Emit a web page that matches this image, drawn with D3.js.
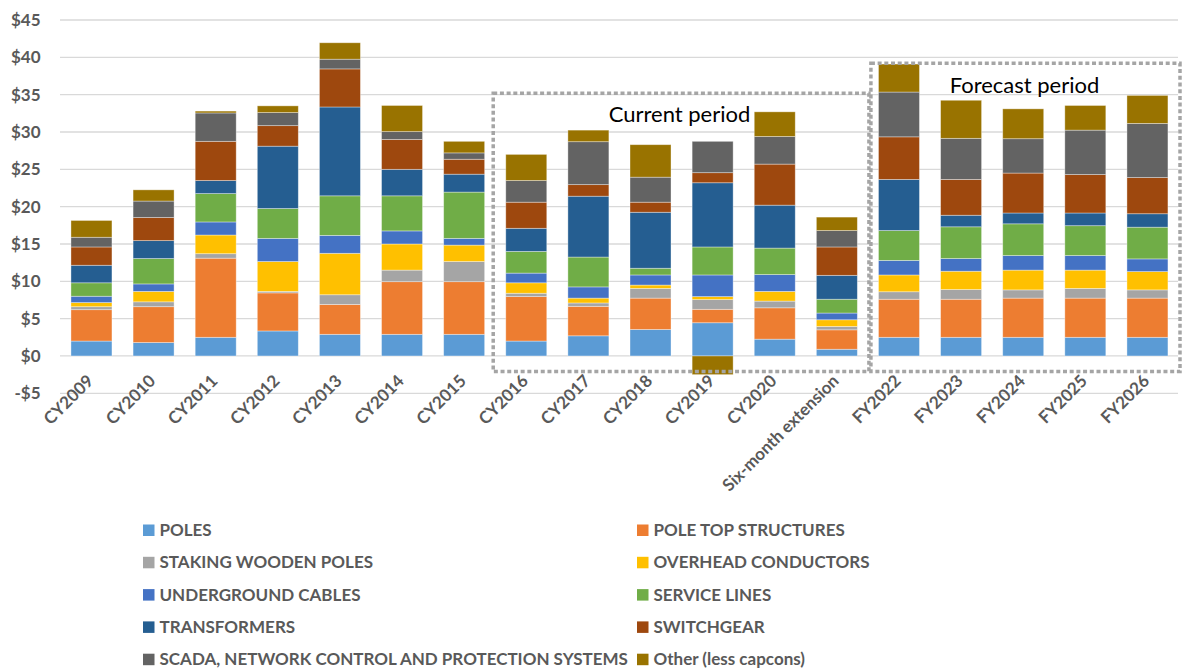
<!DOCTYPE html>
<html>
<head>
<meta charset="utf-8">
<script src="https://cdn.jsdelivr.net/npm/d3@7"></script>
<style>
  body { margin: 0; background: #fff; }
  svg text { font-family: Lato, "Open Sans", "DejaVu Sans", sans-serif; }
</style>
</head>
<body>
<svg id="chart" width="1182" height="671"></svg>
<script>
// Capital expenditure by asset category ($ million)
const categories = ["CY2009", "CY2010", "CY2011", "CY2012", "CY2013", "CY2014", "CY2015",
  "CY2016", "CY2017", "CY2018", "CY2019", "CY2020", "Six-month extension",
  "FY2022", "FY2023", "FY2024", "FY2025", "FY2026"];

const poles        = [2.0, 1.8, 2.5, 3.35, 2.9, 2.9, 2.9, 2.0, 2.7, 3.55, 4.45, 2.25, 0.9, 2.5, 2.5, 2.5, 2.5, 2.5];
const poleTop      = [4.2, 4.8, 10.6, 5.1, 4.0, 7.05, 7.05, 5.95, 3.95, 4.2, 1.8, 4.2, 2.6, 5.1, 5.1, 5.25, 5.25, 5.25];
const staking      = [0.4, 0.65, 0.6, 0.2, 1.3, 1.55, 2.7, 0.45, 0.45, 1.3, 1.3, 0.9, 0.45, 1.0, 1.3, 1.1, 1.3, 1.1];
const overhead     = [0.55, 1.4, 2.5, 4.0, 5.55, 3.5, 2.2, 1.4, 0.65, 0.45, 0.4, 1.3, 0.9, 2.25, 2.45, 2.65, 2.45, 2.45];
const underground  = [0.85, 1.0, 1.75, 3.1, 2.4, 1.75, 0.9, 1.3, 1.5, 1.35, 2.9, 2.25, 0.9, 1.95, 1.7, 1.95, 1.95, 1.7];
const serviceLines = [1.8, 3.4, 3.8, 4.0, 5.3, 4.7, 6.2, 2.9, 4.0, 0.9, 3.75, 3.55, 1.85, 4.0, 4.25, 4.25, 4.0, 4.25];
const transformers = [2.35, 2.4, 1.75, 8.35, 11.9, 3.55, 2.4, 3.1, 8.15, 7.5, 8.6, 5.75, 3.2, 6.85, 1.55, 1.45, 1.7, 1.8];
const switchgear   = [2.45, 3.1, 5.25, 2.75, 5.1, 4.0, 2.0, 3.5, 1.55, 1.35, 1.35, 5.5, 3.8, 5.7, 4.8, 5.35, 5.15, 4.85];
const scada        = [1.3, 2.2, 3.8, 1.75, 1.3, 1.05, 0.85, 2.9, 5.75, 3.35, 4.2, 3.7, 2.2, 6.0, 5.5, 4.6, 5.95, 7.25];
const other        = [2.25, 1.5, 0.25, 0.9, 2.2, 3.5, 1.55, 3.5, 1.55, 4.35, -2.5, 3.3, 1.8, 3.75, 5.1, 4.0, 3.3, 3.75];

const seriesNames = ["POLES", "POLE TOP STRUCTURES", "STAKING WOODEN POLES", "OVERHEAD CONDUCTORS",
  "UNDERGROUND CABLES", "SERVICE LINES", "TRANSFORMERS", "SWITCHGEAR",
  "SCADA, NETWORK CONTROL AND PROTECTION SYSTEMS", "Other (less capcons)"];
const seriesValues = [poles, poleTop, staking, overhead, underground, serviceLines,
  transformers, switchgear, scada, other];
const seriesColors = ["#5B9BD5", "#ED7D31", "#A5A5A5", "#FFC000", "#4472C4", "#70AD47",
  "#255E91", "#9E480E", "#636363", "#997300"];

const yTicks = [-5, 0, 5, 10, 15, 20, 25, 30, 35, 40, 45];
const yTickLabels = ["-$5", "$0", "$5", "$10", "$15", "$20", "$25", "$30", "$35", "$40", "$45"];

// Period annotations
const periods = [
  { label: "Current period", first: "CY2016", last: "Six-month extension", top: 35.2 },
  { label: "Forecast period", first: "FY2022", last: "FY2026", top: 39.2 }
];

const svg = d3.select("#chart");
const textColor = "#595959";

const x = d3.scaleBand().domain(categories).range([60.4, 1178.5])
  .paddingInner(0.34).paddingOuter(0.17);
const y = d3.scaleLinear().domain([-5, 45]).range([393.3, 20]);

// Gridlines
svg.append("g").selectAll("line").data(yTicks).join("line")
  .attr("x1", 60).attr("x2", 1178)
  .attr("y1", d => y(d)).attr("y2", d => y(d))
  .attr("stroke", "#D9D9D9").attr("stroke-width", 1.3);

// Y axis labels
svg.append("g").selectAll("text").data(yTicks).join("text")
  .attr("x", 40.5).attr("y", d => y(d)).attr("dy", "0.36em")
  .attr("text-anchor", "end").attr("fill", textColor)
  .attr("font-size", 17).attr("font-weight", 700)
  .text((d, i) => yTickLabels[i]);

// Stacked bars
const rows = categories.map((c, i) => {
  const r = { category: c };
  seriesNames.forEach((s, k) => { r[s] = seriesValues[k][i]; });
  return r;
});
const stacked = d3.stack().keys(seriesNames).offset(d3.stackOffsetDiverging)(rows);

svg.append("g").selectAll("g").data(stacked).join("g")
  .attr("fill", (d, i) => seriesColors[i])
  .selectAll("rect").data(d => d).join("rect")
  .attr("x", d => x(d.data.category))
  .attr("width", x.bandwidth())
  .attr("y", d => y(Math.max(d[0], d[1])))
  .attr("height", d => Math.abs(y(d[0]) - y(d[1])))
  .attr("stroke", "#ffffff").attr("stroke-opacity", 0.45).attr("stroke-width", 0.8);

// X axis labels (rotated)
svg.append("g").selectAll("text").data(categories).join("text")
  .attr("transform", d => `translate(${x(d) + x.bandwidth() / 2 + 3},382) rotate(-45)`)
  .attr("text-anchor", "end").attr("fill", textColor)
  .attr("font-size", 17).attr("font-weight", 700)
  .text(d => d);

// Period boxes
const gap = x.step() - x.bandwidth();
const boxBottom = y(-2.08);
const boxes = periods.map((p, i) => ({
  ...p,
  x0: x(p.first) - gap / 2 + (i === 0 ? -2 : 3),
  x1: i === 0 ? x("FY2022") - gap / 2 + 1 : 1180,
  y0: y(p.top)
}));
svg.append("g").selectAll("path").data(boxes).join("path")
  .attr("d", b => `M${b.x0},${b.y0}H${b.x1}V${boxBottom}H${b.x0}Z`)
  .attr("fill", "none").attr("stroke", "#A5A5A5")
  .attr("stroke-width", 3.5).attr("stroke-dasharray", "4 2.7");

svg.append("text").attr("x", 679.5).attr("y", 121.7)
  .attr("text-anchor", "middle").attr("font-size", 22).attr("fill", "#000")
  .text(periods[0].label);
svg.append("text").attr("x", 1024.5).attr("y", 92.7)
  .attr("text-anchor", "middle").attr("font-size", 22).attr("fill", "#000")
  .text(periods[1].label);

// Legend, two columns
const legend = svg.append("g").selectAll("g").data(seriesNames).join("g")
  .attr("transform", (d, i) => `translate(${i % 2 === 0 ? 143 : 637},${530 + Math.floor(i / 2) * 32.3})`);
legend.append("rect").attr("x", 0).attr("y", -5.5).attr("width", 11.5).attr("height", 11.5)
  .attr("fill", (d, i) => seriesColors[i]);
legend.append("text").attr("x", 16.5).attr("dy", "0.36em")
  .attr("fill", textColor).attr("font-size", 17).attr("font-weight", 700)
  .text(d => d);
</script>
</body>
</html>
